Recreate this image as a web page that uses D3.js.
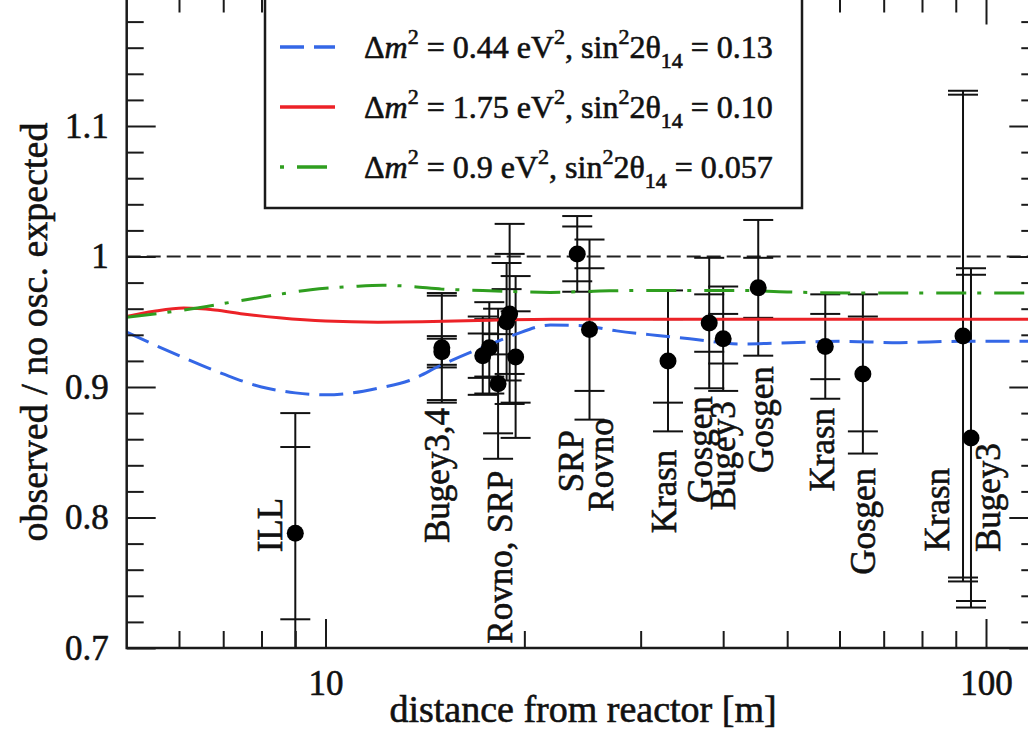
<!DOCTYPE html>
<html>
<head>
<meta charset="utf-8">
<script src="https://cdn.jsdelivr.net/npm/d3@7"></script>
<style>
  html, body { margin: 0; padding: 0; background: #fff; }
  svg { display: block; }
  text { font-family: "Liberation Serif", "DejaVu Serif", serif; fill: #111; stroke: #111; stroke-width: 0.6px; }
</style>
</head>
<body>
<svg id="chart" width="1028" height="733"></svg>
<script>
// ---- measurements: reactor rates relative to the no-oscillation expectation ----
const expDistance = [9.0, 15.0, 15.0, 17.3, 17.7, 18.25, 18.8, 19.0, 19.4, 24.05, 25.1, 33.0, 38.1, 40.0, 45.2, 57.1, 65.1, 92.3, 94.9];
const expRatio    = [0.788, 0.927, 0.930, 0.924, 0.930, 0.9025, 0.950, 0.956, 0.923, 1.002, 0.944, 0.920, 0.949, 0.937, 0.976, 0.931, 0.910, 0.939, 0.861];
const errStat     = [0.066, 0.010, 0.040, 0.017, 0.022, 0.038, 0.025, 0.046, 0.035, 0.021, 0.047, 0.032, 0.022, 0.019, 0.023, 0.025, 0.044, 0.185, 0.125];
const errTotal    = [0.092, 0.012, 0.042, 0.030, 0.035, 0.0575, 0.045, 0.069, 0.062, 0.029, 0.069, 0.054, 0.050, 0.040, 0.052, 0.040, 0.061, 0.188, 0.130];

// ---- experiment names, anchored in data units (distance of text centre, value at its upper end) ----
const labelText  = ["ILL", "Bugey3,4", "Rovno, SRP", "SRP", "Rovno", "Krasn", "Gosgen", "Bugey3", "Gosgen", "Krasn", "Gosgen", "Krasn", "Bugey3"];
const labelDist  = [8.24, 14.75, 18.4, 23.6, 26.2, 32.6, 36.9, 40.0, 45.7, 56.5, 65.2, 84.3, 101.0];
const labelTop   = [0.815, 0.884, 0.836, 0.867, 0.876, 0.852, 0.893, 0.889, 0.916, 0.884, 0.838, 0.838, 0.857];

// ---- oscillation curves (distance [m], ratio) ----
const curveBlueDist  = [5, 6, 7, 8, 9, 10, 11, 12, 13.4, 15, 17.6, 19.2, 21.9, 24.5, 27.6, 31.8, 35.6, 42.4, 50.5, 60, 74, 91, 120];
const curveBlueVal   = [0.942, 0.924, 0.910, 0.900, 0.8955, 0.894, 0.8955, 0.899, 0.905, 0.917, 0.932, 0.9395, 0.9475, 0.947, 0.943, 0.9395, 0.937, 0.933, 0.934, 0.935, 0.934, 0.935, 0.935];
const curveRedDist   = [5, 5.5, 6.1, 6.8, 7.5, 8.5, 10, 12, 14, 17, 22, 30, 50, 120];
const curveRedVal    = [0.954, 0.958, 0.9605, 0.959, 0.956, 0.953, 0.9505, 0.9497, 0.950, 0.951, 0.952, 0.952, 0.952, 0.952];
const curveGreenDist = [5, 6.1, 7.4, 8.5, 9.5, 11, 12.2, 13.5, 15, 17.3, 21.9, 26, 30, 42, 50, 65, 120];
const curveGreenVal  = [0.9535, 0.959, 0.966, 0.971, 0.9745, 0.977, 0.978, 0.977, 0.975, 0.974, 0.9725, 0.9735, 0.974, 0.974, 0.9728, 0.972, 0.972];

// ---- legend entries ----
const legendDm2  = ["0.44", "1.75", "0.9"];
const legendSin2 = ["0.13", "0.10", "0.057"];

// ---- axis ticks ----
const xMajorTicks = [10, 100];
const xMinorTicks = [6, 7, 8, 9, 20, 30, 40, 50, 60, 70, 80, 90];
const yMajorTicks = [0.7, 0.8, 0.9, 1.0, 1.1, 1.2];
const yMinorTicks = d3.range(36).map(i => 0.72 + i * 0.02).filter(v => Math.abs(v * 10 - Math.round(v * 10)) > 1e-6);
const yLabelTicks = [0.7, 0.8, 0.9, 1.0, 1.1];

// ---- layout ----
const X0 = 126.7, X1 = 1038.3, Y0 = 648, Y1 = -4.5;
const svg = d3.select("#chart");
const x = d3.scaleLog().domain([5, 120]).range([X0, X1]);
const y = d3.scaleLinear().domain([0.7, 1.2]).range([Y0, Y1]);

svg.append("defs").append("clipPath").attr("id", "plotClip")
  .append("rect").attr("x", X0).attr("y", Y1).attr("width", X1 - X0).attr("height", Y0 - Y1);

const plot = svg.append("g").attr("clip-path", "url(#plotClip)");

// reference line: no oscillation
plot.append("line")
  .attr("x1", X0).attr("x2", X1).attr("y1", y(1)).attr("y2", y(1))
  .attr("stroke", "#222").attr("stroke-width", 2).attr("stroke-dasharray", "14,6");

// error bars
const pts = expDistance.map((d, i) => ({ d, v: expRatio[i], s: errStat[i], t: errTotal[i] }));
const CAP = 15;
const eb = plot.append("g").attr("stroke", "#111").attr("stroke-width", 2);
pts.forEach(p => {
  eb.append("line")
    .attr("x1", x(p.d)).attr("x2", x(p.d))
    .attr("y1", y(p.v - p.t)).attr("y2", y(p.v + p.t));
  [p.v - p.t, p.v - p.s, p.v + p.s, p.v + p.t].forEach(c => {
    eb.append("line")
      .attr("x1", x(p.d) - CAP).attr("x2", x(p.d) + CAP)
      .attr("y1", y(c)).attr("y2", y(c));
  });
});

// oscillation curves
const lineGen = d3.line().x(d => x(d[0])).y(d => y(d[1])).curve(d3.curveMonotoneX);
const curves = [
  { dist: curveBlueDist,  val: curveBlueVal,  color: "#3467e6", dash: "24,10" },
  { dist: curveRedDist,   val: curveRedVal,   color: "#ec2227", dash: null },
  { dist: curveGreenDist, val: curveGreenVal, color: "#2f9e1f", dash: "30,11,4,13" }
];
curves.forEach(c => {
  plot.append("path")
    .datum(c.dist.map((d, i) => [d, c.val[i]]))
    .attr("d", lineGen)
    .attr("fill", "none")
    .attr("stroke", c.color)
    .attr("stroke-width", 3)
    .attr("stroke-dasharray", c.dash);
});

// measured points
plot.append("g").selectAll("circle").data(pts).join("circle")
  .attr("cx", p => x(p.d)).attr("cy", p => y(p.v)).attr("r", 8.5).attr("fill", "#000");

// experiment names
svg.append("g").selectAll("text").data(labelText).join("text")
  .attr("transform", (t, i) => `translate(${x(labelDist[i])},${y(labelTop[i])}) rotate(-90)`)
  .attr("text-anchor", "end")
  .attr("dy", "0.33em")
  .attr("font-size", 35)
  .text(t => t);

// ---- axes (ticks pointing into the frame) ----
function styleAxis(g) {
  g.select(".domain").remove();
  g.selectAll(".tick line").attr("stroke", "#1a1a1a").attr("stroke-width", 2);
  g.selectAll(".tick text").attr("font-family", "Liberation Serif, serif").attr("fill", "#111");
}
svg.append("g").attr("transform", `translate(0,${Y0})`)
  .call(d3.axisBottom(x).tickValues(xMajorTicks).tickSizeInner(-29).tickSizeOuter(0).tickPadding(22).tickFormat(d3.format("d")))
  .call(styleAxis).call(g => g.selectAll(".tick text").attr("font-size", 35));
svg.append("g").attr("transform", `translate(0,${Y0})`)
  .call(d3.axisBottom(x).tickValues(xMinorTicks).tickSizeInner(-17).tickSizeOuter(0).tickFormat(""))
  .call(styleAxis);
svg.append("g").attr("transform", `translate(0,${Y1})`)
  .call(d3.axisTop(x).tickValues(xMajorTicks).tickSizeInner(-29).tickSizeOuter(0).tickFormat(""))
  .call(styleAxis);
svg.append("g").attr("transform", `translate(0,${Y1})`)
  .call(d3.axisTop(x).tickValues(xMinorTicks).tickSizeInner(-17).tickSizeOuter(0).tickFormat(""))
  .call(styleAxis);

svg.append("g").attr("transform", `translate(${X0},0)`)
  .call(d3.axisLeft(y).tickValues(yLabelTicks).tickSizeInner(-29).tickSizeOuter(0).tickPadding(18).tickFormat(d3.format("")))
  .call(styleAxis).call(g => g.selectAll(".tick text").attr("font-size", 35));
svg.append("g").attr("transform", `translate(${X0},0)`)
  .call(d3.axisLeft(y).tickValues(yMinorTicks).tickSizeInner(-17).tickSizeOuter(0).tickFormat(""))
  .call(styleAxis);
svg.append("g").attr("transform", `translate(${X1},0)`)
  .call(d3.axisRight(y).tickValues(yMajorTicks).tickSizeInner(-29).tickSizeOuter(0).tickFormat(""))
  .call(styleAxis);
svg.append("g").attr("transform", `translate(${X1},0)`)
  .call(d3.axisRight(y).tickValues(yMinorTicks).tickSizeInner(-17).tickSizeOuter(0).tickFormat(""))
  .call(styleAxis);

// frame
svg.append("rect")
  .attr("x", X0).attr("y", Y1).attr("width", X1 - X0).attr("height", Y0 - Y1)
  .attr("fill", "none").attr("stroke", "#1a1a1a").attr("stroke-width", 2.5);

// axis titles
svg.append("text")
  .attr("x", 583).attr("y", 722)
  .attr("text-anchor", "middle").attr("font-size", 38)
  .text("distance from reactor [m]");
svg.append("text")
  .attr("transform", "translate(47,332) rotate(-90)")
  .attr("text-anchor", "middle").attr("font-size", 38)
  .text("observed / no osc. expected");

// ---- legend ----
const leg = svg.append("g");
leg.append("rect")
  .attr("x", 265).attr("y", -10).attr("width", 537).attr("height", 218)
  .attr("fill", "#fff").attr("stroke", "#1a1a1a").attr("stroke-width", 2.5);
const rowY = [47, 107, 167];
curves.forEach((c, i) => {
  leg.append("line")
    .attr("x1", 280).attr("x2", 335).attr("y1", rowY[i]).attr("y2", rowY[i])
    .attr("stroke", c.color).attr("stroke-width", 3.5)
    .attr("stroke-dasharray", c.dash)
    .attr("stroke-dashoffset", i === 2 ? 41 : 0);
  const t = leg.append("text").attr("x", 364).attr("y", rowY[i] + 11).attr("font-size", 32);
  t.append("tspan").text("\u0394");
  t.append("tspan").attr("font-style", "italic").text("m");
  t.append("tspan").attr("font-size", 22).attr("dy", -14).text("2");
  t.append("tspan").attr("dy", 14).text(` = ${legendDm2[i]} eV`);
  t.append("tspan").attr("font-size", 22).attr("dy", -14).text("2");
  t.append("tspan").attr("dy", 14).text(", sin");
  t.append("tspan").attr("font-size", 22).attr("dy", -14).text("2");
  t.append("tspan").attr("dy", 14).text("2\u03B8");
  t.append("tspan").attr("font-size", 22).attr("dy", 10).text("14");
  t.append("tspan").attr("dy", -10).text(` = ${legendSin2[i]}`);
});
</script>
</body>
</html>
